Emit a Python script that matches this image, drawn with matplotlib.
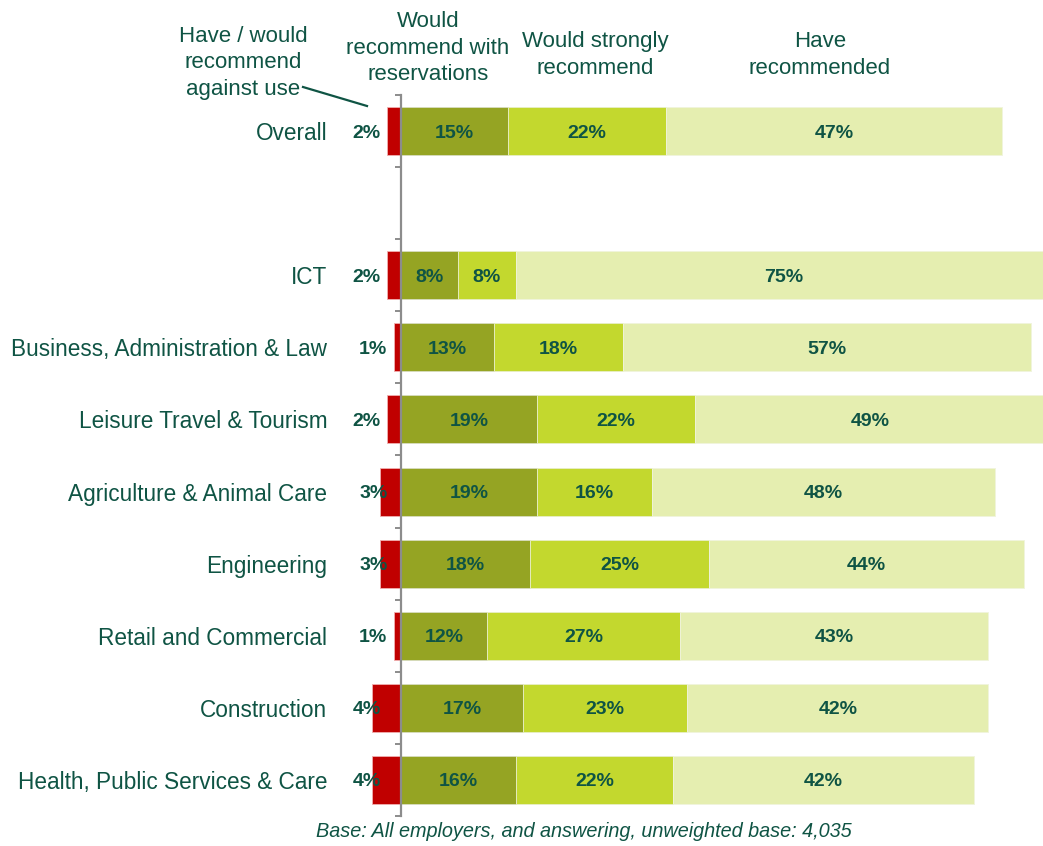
import matplotlib.pyplot as plt
import numpy as np

categories = ['Overall', '', 'ICT', 'Business, Administration & Law',
              'Leisure Travel & Tourism', 'Agriculture & Animal Care',
              'Engineering', 'Retail and Commercial', 'Construction',
              'Health, Public Services & Care']
against = [2, np.nan, 2, 1, 2, 3, 3, 1, 4, 4]
reservations = [15, np.nan, 8, 13, 19, 19, 18, 12, 17, 16]
strongly = [22, np.nan, 8, 18, 22, 16, 25, 27, 23, 22]
recommended = [47, np.nan, 75, 57, 49, 48, 44, 43, 42, 42]

headers = ['Have / would\nrecommend\nagainst use',
           'Would\nrecommend with\nreservations',
           'Would strongly\nrecommend',
           'Have\nrecommended']

green_txt = '#0f5444'
c_red = '#c00000'
c_dark = '#95a423'
c_lime = '#c3d82e'
c_pale = '#e5eeb0'
plt.rcParams['font.family'] = ['Liberation Sans', 'DejaVu Sans']

fig = plt.figure(figsize=(10.43, 8.46), dpi=100)
# zero line sits at x=401px, ~7.16px per percent
ppu = 7.16
x_left = -5
x_right = (1043 - 401) / ppu
ax = fig.add_axes([(401 + x_left * ppu) / 1043, 30 / 846,
                   (x_right - x_left) * ppu / 1043, 721 / 846])

y = np.arange(len(categories))
h = 0.667
a = np.array(against, float)
r = np.array(reservations, float)
s = np.array(strongly, float)
c = np.array(recommended, float)

ax.barh(y, -a, height=h, color=c_red, edgecolor='#f0b0b0', linewidth=0.6)
ax.barh(y, r, height=h, color=c_dark, edgecolor='#d8dcc0', linewidth=0.6)
ax.barh(y, s, left=r, height=h, color=c_lime, edgecolor='#e8eec8', linewidth=0.6)
ax.barh(y, c, left=r + s, height=h, color=c_pale, edgecolor='#f0f4dc', linewidth=0.6)

lab = dict(color=green_txt, fontsize=14, fontweight='bold', va='center_baseline')
for i in y:
    if np.isnan(a[i]):
        continue
    red_x = -a[i] - 0.9 if a[i] <= 2 else -a[i] + 1.2
    ax.text(red_x, i, f'{a[i]:.0f}%', ha='right', **lab)
    ax.text(r[i] / 2, i, f'{r[i]:.0f}%', ha='center', **lab)
    ax.text(r[i] + s[i] / 2, i, f'{s[i]:.0f}%', ha='center', **lab)
    ax.text(r[i] + s[i] + c[i] / 2, i, f'{c[i]:.0f}%', ha='center', **lab)

ax.set_xlim(x_left, x_right)
ax.set_ylim(len(categories) - 0.5, -0.5)
for side in ['top', 'right', 'bottom']:
    ax.spines[side].set_visible(False)
ax.spines['left'].set_position(('data', 0))
ax.spines['left'].set_color('#8c8c8c')
ax.spines['left'].set_linewidth(1.6)
ax.set_xticks([])
ax.set_yticks(y)
ax.set_yticklabels(categories, fontsize=16.3, color=green_txt)
ax.set_yticks(np.arange(len(categories) + 1) - 0.5, minor=True)
ax.tick_params(axis='y', which='major', length=0, pad=53)
ax.tick_params(axis='y', which='minor', length=4, width=1.4,
               color='#8c8c8c', direction='out')

hx = [243, 428, 595, 820]
hy = [63, 48, 55, 55]
for t, px, py in zip(headers, hx, hy):
    fig.text(px / 1043, 1 - py / 846, t, ha='center', va='center',
             fontsize=16, color=green_txt, linespacing=1.37)

fig.add_artist(plt.Line2D([303 / 1043, 367 / 1043], [1 - 87 / 846, 1 - 106 / 846],
                          color=green_txt, linewidth=1.6))

fig.text(584 / 1043, 1 - 831 / 846,
         'Base: All employers, and answering, unweighted base: 4,035',
         ha='center', va='center', fontsize=14.3, style='italic', color=green_txt)

fig.savefig('out.png', dpi=100)
